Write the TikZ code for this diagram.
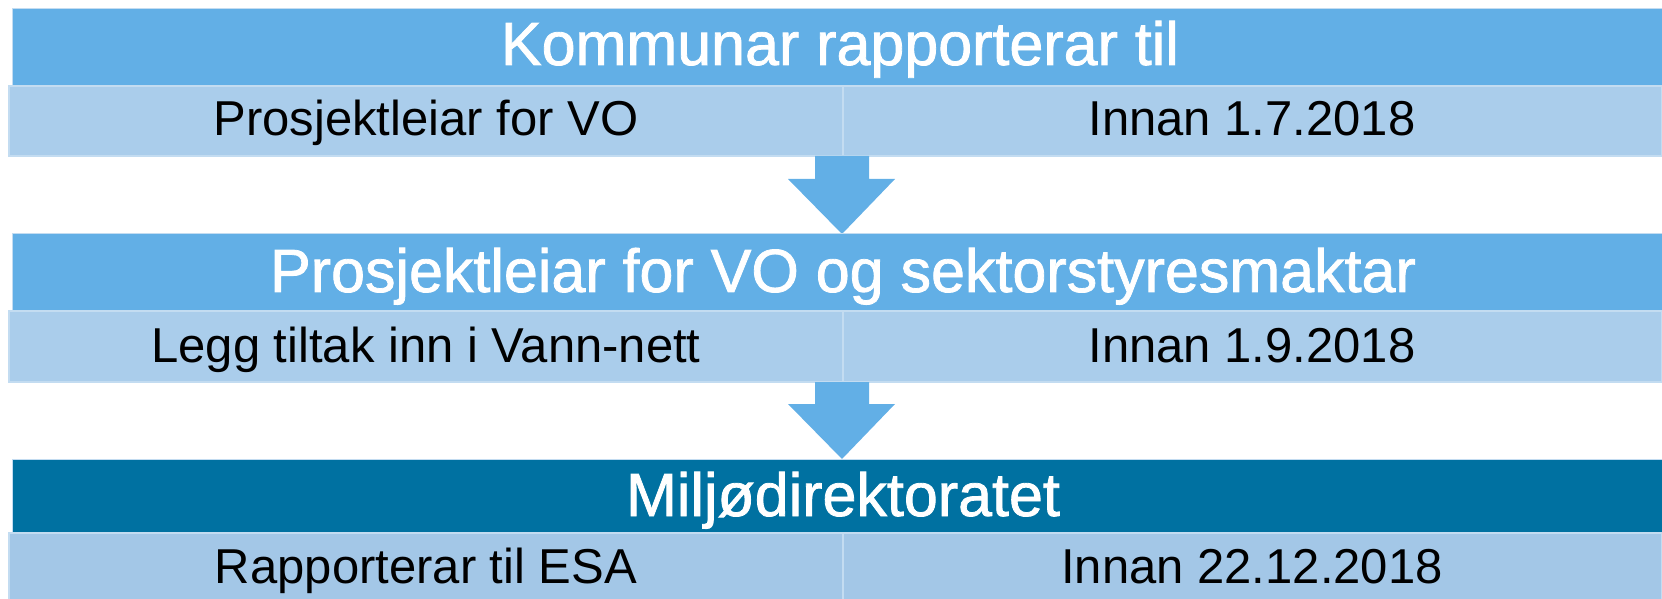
\documentclass[tikz,border=0pt]{standalone}
\usepackage{fontspec}
\setmainfont{Liberation Sans}
\newfontfamily\hdrfont[FakeBold=1.3]{Liberation Sans}
\definecolor{hdr}{HTML}{62AFE6}
\definecolor{hdrdark}{HTML}{0071A1}
\definecolor{subrow}{HTML}{AACDEB}
\definecolor{subrowb}{HTML}{A3C7E7}
\definecolor{edge}{HTML}{C3DCF1}
\tikzset{
  box/.style={inner sep=0pt, outer sep=0pt, anchor=north west},
  hdrbox/.style={box, fill=hdr, draw=edge, line width=0.5pt},
  subbox/.style={box, fill=subrow, draw=edge, line width=0.6pt},
  hdrtext/.style={anchor=base, inner sep=0pt, text=white, font=\hdrfont\fontsize{30.5}{36}\selectfont},
  subtext/.style={anchor=base, inner sep=0pt, text=black, font=\fontsize{24.5}{30}\selectfont},
  flowarrow/.style={fill=hdr, draw=none}
}
\begin{document}
\begin{tikzpicture}[x=0.5pt, y=-0.5pt]
\useasboundingbox (0,0) rectangle (1662,599);
% row 1
\node[hdrbox, minimum width=1650*0.5pt, minimum height=77.5*0.5pt] (h1) at (12,8.5) {};
\node[subbox, minimum width=1653*0.5pt, minimum height=70*0.5pt] (s1) at (9,86) {};
\draw[edge, line width=0.8pt] (843,86) -- (843,156);
\node[hdrtext] (t1) at (840,65) {Kommunar rapporterar til};
\node[subtext] (s1l) at (426,136) {Prosjektleiar for VO};
\node[subtext] (s1r) at (1252,136) {Innan 1.7.2018};
% arrow 1
\fill[flowarrow] (815,156) -- (869,156) -- (869,179) -- (895,179) -- (842,234) -- (788,179) -- (815,179) -- cycle;
% row 2
\node[hdrbox, minimum width=1650*0.5pt, minimum height=77*0.5pt] (h2) at (12,234) {};
\node[subbox, minimum width=1653*0.5pt, minimum height=71*0.5pt] (s2) at (9,311) {};
\draw[edge, line width=0.8pt] (843,311) -- (843,382);
\node[hdrtext] (t2) at (843,292) {Prosjektleiar for VO og sektorstyresmaktar};
\node[subtext] (s2l) at (426,362) {Legg tiltak inn i Vann-nett};
\node[subtext] (s2r) at (1252,362) {Innan 1.9.2018};
% arrow 2
\fill[flowarrow] (815,382) -- (869,382) -- (869,404) -- (895,404) -- (842,459) -- (788,404) -- (815,404) -- cycle;
% row 3
\node[hdrbox, fill=hdrdark, minimum width=1650*0.5pt, minimum height=74*0.5pt] (h3) at (12,459) {};
\node[subbox, fill=subrowb, minimum width=1653*0.5pt, minimum height=70*0.5pt] (s3) at (9,533) {};
\draw[edge, line width=0.8pt] (843,533) -- (843,599);
\node[hdrtext] (t3) at (843,516) {Miljødirektoratet};
\node[subtext] (s3l) at (426,583) {Rapporterar til ESA};
\node[subtext] (s3r) at (1252,583) {Innan 22.12.2018};
\end{tikzpicture}
\end{document}
